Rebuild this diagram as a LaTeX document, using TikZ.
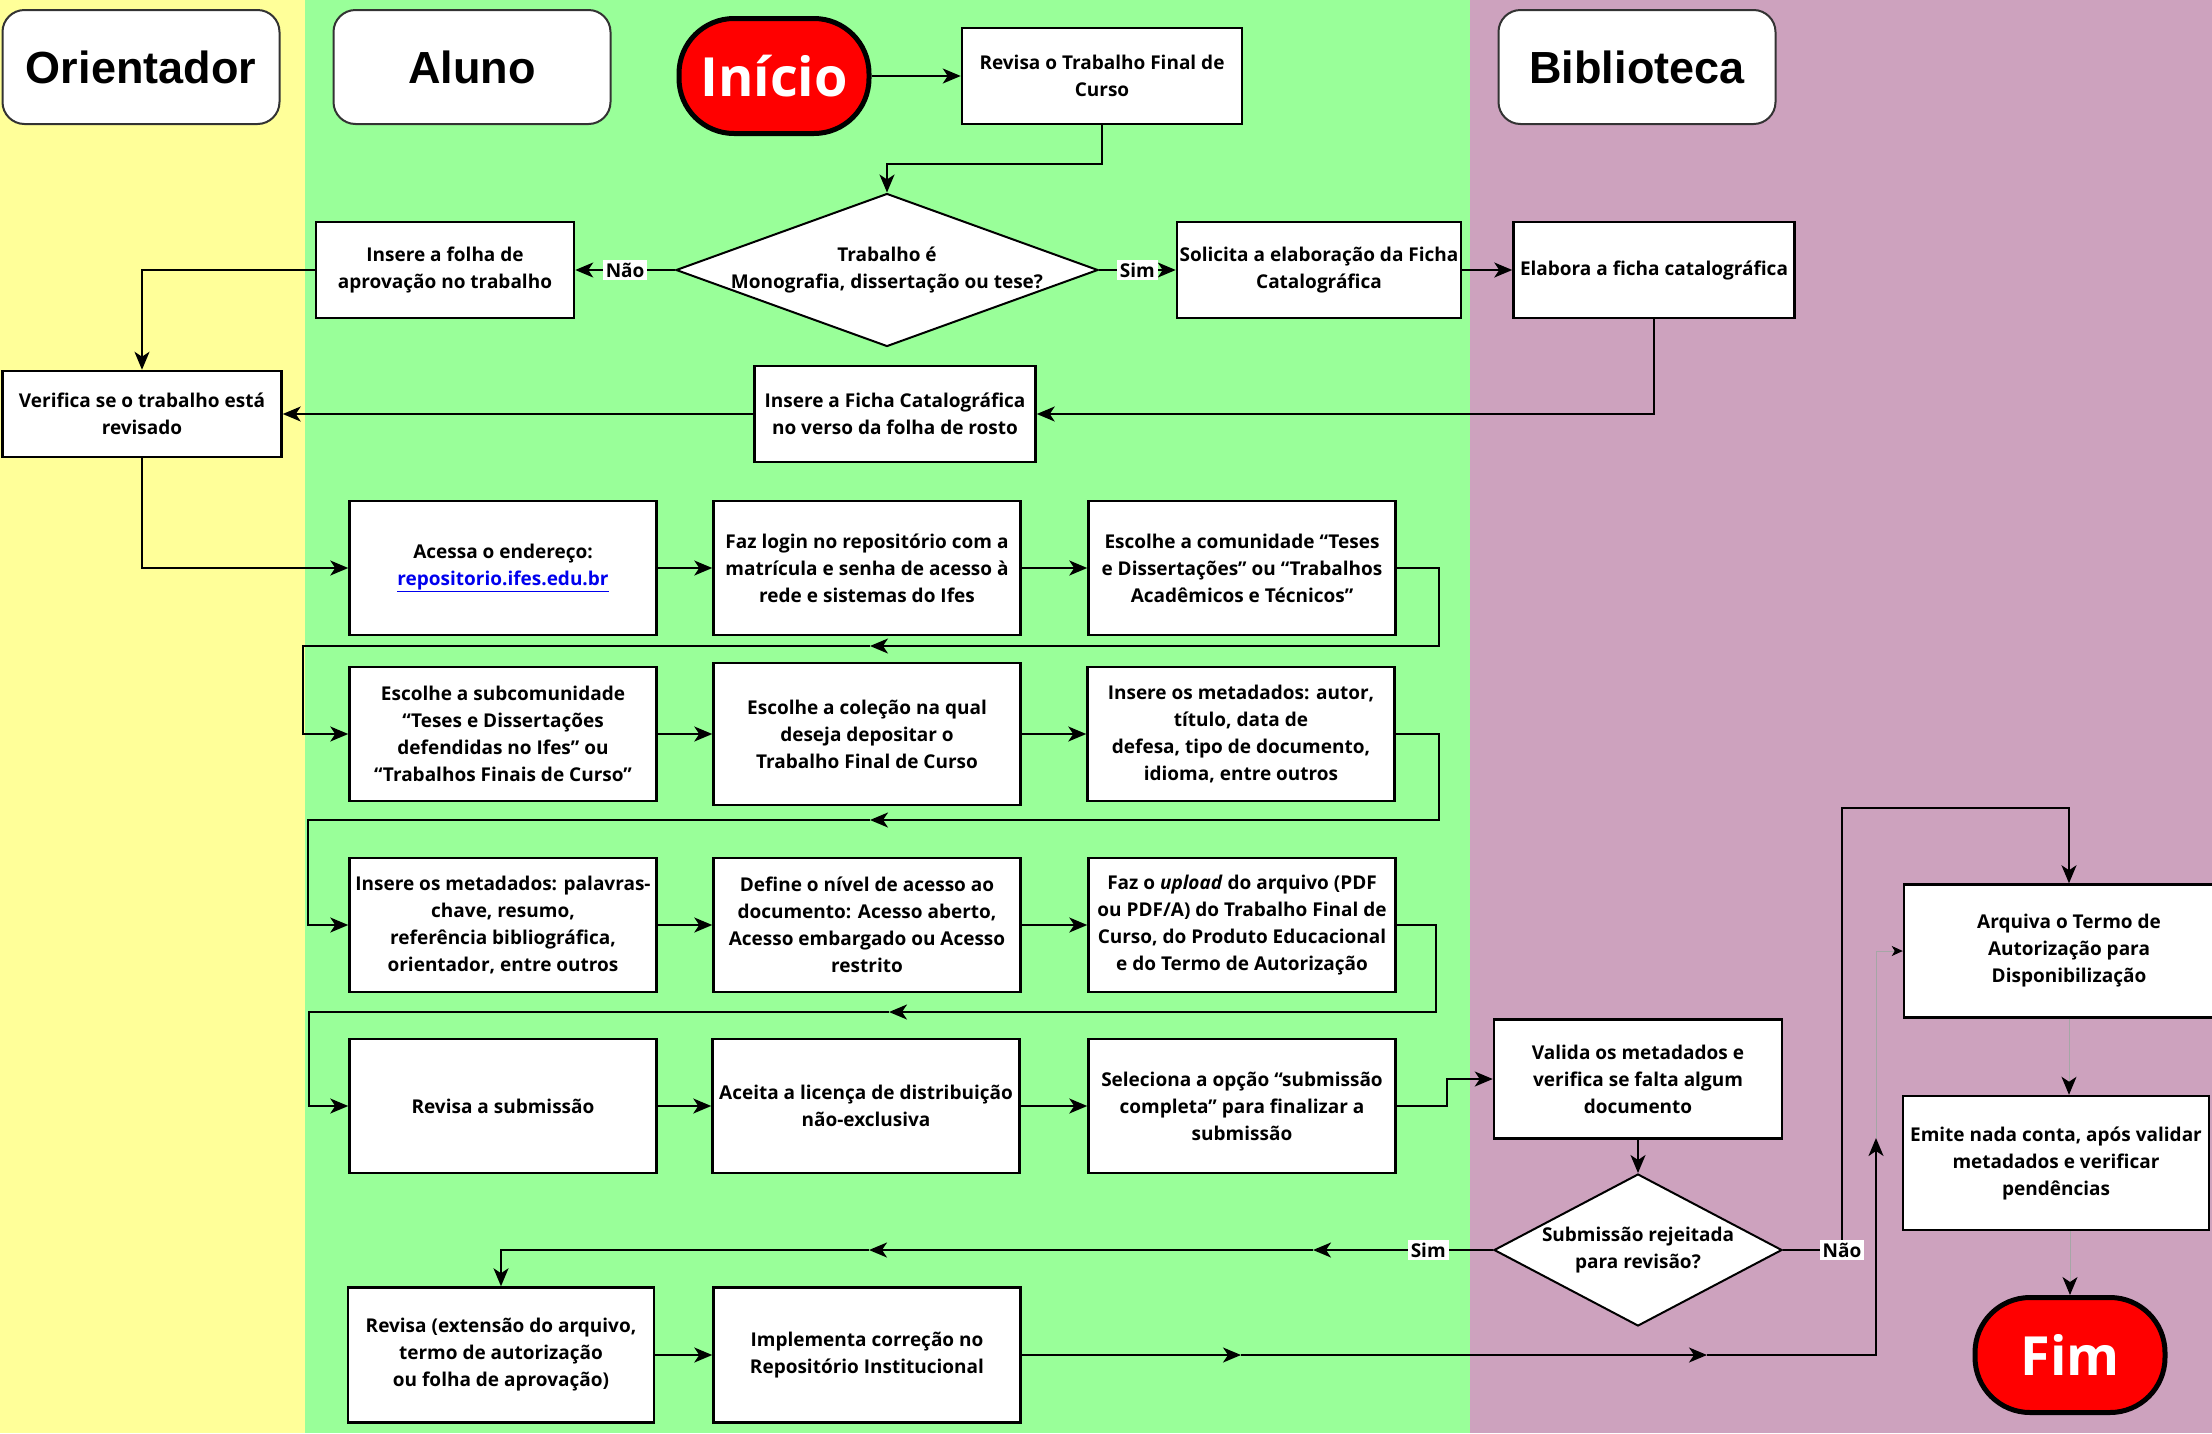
\documentclass[tikz,border=0pt]{standalone}
\usepackage{fontspec}
\setmainfont{Open Sans}
\newfontfamily\headfont{Liberation Sans}
\usetikzlibrary{shapes.geometric,arrows.meta}
\definecolor{myyellow}{HTML}{FFFF99}
\definecolor{mygreen}{HTML}{99FF99}
\definecolor{mypurple}{HTML}{CDA2BE}
\definecolor{myred}{HTML}{FF0000}
\definecolor{mylink}{HTML}{0000EE}

\begin{document}
\begin{tikzpicture}[x=1pt, y=-1pt,
        >={Stealth[length=18pt, width=15pt, inset=5pt]},
        box/.style={rectangle, draw=black, line width=2.5pt, fill=white, align=center, inner sep=2pt,
            font=\fontsize{19}{27}\selectfont\bfseries, minimum width=307pt, minimum height=134pt},
        lane/.style={rectangle, draw=black!80, line width=2pt, fill=white, rounded corners=22pt,
            font=\headfont\fontsize{45}{50}\selectfont\bfseries, minimum width=277pt, minimum height=114pt},
        term/.style={rectangle, draw=black, line width=5pt, fill=myred, rounded corners=55pt, text=white,
            font=\fontsize{54}{60}\selectfont\bfseries, minimum width=190pt, minimum height=115pt},
        decision/.style={diamond, draw=black, line width=2pt, fill=white, align=center, inner sep=-6pt,
            font=\fontsize{19}{27}\selectfont\bfseries},
        answer/.style={fill=white, inner sep=3pt, font=\fontsize{19}{22}\selectfont\bfseries},
        flow/.style={line width=2pt, ->},
        faint/.style={draw=black!35, line width=1pt, -{Stealth[length=18pt, width=15pt, inset=5pt, black]}}]
        \useasboundingbox (0,0) rectangle (2212,1433);
        % lanes
        \fill[myyellow] (0,0) rectangle (305,1433);
        \fill[mygreen] (305,0) rectangle (1470,1433);
        \fill[mypurple] (1470,0) rectangle (2212,1433);
        \node[lane] at (141,67) (ORI) {Orientador};
        \node[lane] at (472,67) (ALU) {Aluno};
        \node[lane] at (1637,67) (BIB) {Biblioteca};
        % top part
        \node[term] at (774,76) (INI) {Início};
        \node[box, minimum width=280pt, minimum height=96pt] at (1102,76) (REV) {Revisa o Trabalho Final de\\Curso};
        \node[decision, aspect=2.76, minimum width=422pt, minimum height=153pt] at (887,270) (DEC1) {Trabalho é\\Monografia, dissertação ou tese?};
        \node[box, minimum width=258pt, minimum height=96pt] at (445,270) (FOLHA) {Insere a folha de\\aprovação no trabalho};
        \node[box, minimum width=284pt, minimum height=96pt] at (1319,270) (SOL) {Solicita a elaboração da Ficha\\Catalográfica};
        \node[box, minimum width=281pt, minimum height=96pt] at (1654,270) (ELAB) {Elabora a ficha catalográfica};
        \node[box, minimum width=279pt, minimum height=86pt] at (142,414) (VER) {Verifica se o trabalho está\\revisado};
        \node[box, minimum width=281pt, minimum height=96pt] at (895,414) (FICHA) {Insere a Ficha Catalográfica\\no verso da folha de rosto};
        % repository rows
        \node[box] at (503,568) (ACE) {Acessa o endereço:\\{\color{mylink}\underline{repositorio.ifes.edu.br}}};
        \node[box] at (867,568) (LOGIN) {Faz login no repositório com a\\matrícula e senha de acesso à\\rede e sistemas do Ifes};
        \node[box] at (1242,568) (COM) {Escolhe a comunidade “Teses\\e Dissertações” ou “Trabalhos\\Acadêmicos e Técnicos”};
        \node[box] at (503,734) (SUB) {Escolhe a subcomunidade\\“Teses e Dissertações\\defendidas no Ifes” ou\\“Trabalhos Finais de Curso”};
        \node[box, minimum height=142pt] at (867,734) (COL) {Escolhe a coleção na qual\\deseja depositar o\\Trabalho Final de Curso};
        \node[box] at (1241,734) (METAA) {Insere os metadados: autor,\\título, data de\\defesa, tipo de documento,\\idioma, entre outros};
        \node[box] at (503,925) (METAB) {Insere os metadados: palavras-\\chave, resumo,\\referência bibliográfica,\\orientador, entre outros};
        \node[box] at (867,925) (NIVEL) {Define o nível de acesso ao\\documento: Acesso aberto,\\Acesso embargado ou Acesso\\restrito};
        \node[box] at (1242,925) (UPL) {Faz o \textit{upload} do arquivo (PDF\\ou PDF/A) do Trabalho Final de\\Curso, do Produto Educacional\\e do Termo de Autorização};
        \node[box] at (503,1106) (REVSUB) {Revisa a submissão};
        \node[box] at (866,1106) (ACEITA) {Aceita a licença de distribuição\\não-exclusiva};
        \node[box] at (1242,1106) (SEL) {Seleciona a opção “submissão\\completa” para finalizar a\\submissão};
        % library side
        \node[box, minimum width=288pt, minimum height=119pt] at (1638,1079) (VAL) {Valida os metadados e\\verifica se falta algum\\documento};
        \node[decision, aspect=1.9, minimum width=288pt, minimum height=152pt] at (1638,1250) (DEC2) {Submissão rejeitada\\para revisão?};
        \node[box, minimum width=306pt, minimum height=135pt] at (501,1355) (REVEXT) {Revisa (extensão do arquivo,\\termo de autorização\\ou folha de aprovação)};
        \node[box, minimum height=135pt] at (867,1355) (IMPL) {Implementa correção no\\Repositório Institucional};
        \node[box, minimum width=330pt, minimum height=133pt] at (2069,951) (ARQ) {Arquiva o Termo de\\Autorização para\\Disponibilização};
        \node[box, minimum width=306pt] at (2056,1163) (EMITE) {Emite nada conta, após validar\\metadados e verificar\\pendências};
        \node[term] at (2070,1355) (FIM) {Fim};
        \coordinate (R1) at (870,646);
        \coordinate (R2) at (870,820);
        \coordinate (R3) at (889,1012);
        \coordinate (S1) at (1313,1250);
        \coordinate (S2) at (869,1250);
        \coordinate (I1) at (1241,1355);
        \coordinate (I2) at (1707,1355);
        \coordinate (I3) at (1876,1138);
        % top connectors
        \draw[flow] (INI) -- (REV);
        \draw[flow] (REV.south) -- ++(0,39) -| (DEC1.north);
        \draw[flow] (DEC1.west) -- node[answer] {Não} (FOLHA.east);
        \draw[flow] (DEC1.east) -- node[answer] {Sim} (SOL.west);
        \draw[flow] (SOL) -- (ELAB);
        \draw[flow] (ELAB.south) |- (FICHA.east);
        \draw[flow] (FICHA) -- (VER);
        \draw[flow] (FOLHA.west) -| (VER.north);
        \draw[flow] (VER.south) |- (ACE.west);
        % rows
        \draw[flow] (ACE) -- (LOGIN);
        \draw[flow] (LOGIN) -- (COM);
        \draw[flow] (COM.east) -- ++(42,0) |- (R1);
        \draw[flow] (R1) -| ([xshift=-45pt]SUB.west) -- (SUB.west);
        \draw[flow] (SUB) -- (COL);
        \draw[flow] (COL) -- (METAA);
        \draw[flow] (METAA.east) -- ++(43,0) |- (R2);
        \draw[flow] (R2) -| ([xshift=-40pt]METAB.west) -- (METAB.west);
        \draw[flow] (METAB) -- (NIVEL);
        \draw[flow] (NIVEL) -- (UPL);
        \draw[flow] (UPL.east) -- ++(39,0) |- (R3);
        \draw[flow] (R3) -| ([xshift=-39pt]REVSUB.west) -- (REVSUB.west);
        \draw[flow] (REVSUB) -- (ACEITA);
        \draw[flow] (ACEITA) -- (SEL);
        \draw[flow] (SEL.east) -- ++(50,0) |- (VAL.west);
        % validation
        \draw[flow] (VAL) -- (DEC2);
        \draw[flow] (DEC2.west) -- node[answer, pos=0.36] {Sim} (S1);
        \draw[flow] (S1) -- (S2);
        \draw[flow] (S2) -| (REVEXT.north);
        \draw[flow] (DEC2.east) -| node[answer] {Não} ++(59,-442) -| (ARQ.north);
        \draw[flow] (REVEXT) -- (IMPL);
        \draw[flow] (IMPL.east) -- (I1);
        \draw[flow] (I1) -- (I2);
        \draw[flow] (I2) -| (I3);
        % thin lines
        \draw[faint, -{Stealth[length=11pt, width=10pt, inset=3pt, black]}] (I3) |- (ARQ.west);
        \draw[faint] (ARQ.south) -- (ARQ.south |- EMITE.north);
        \draw[faint] (EMITE.south -| FIM.north) -- (FIM.north);
\end{tikzpicture}
\end{document}
